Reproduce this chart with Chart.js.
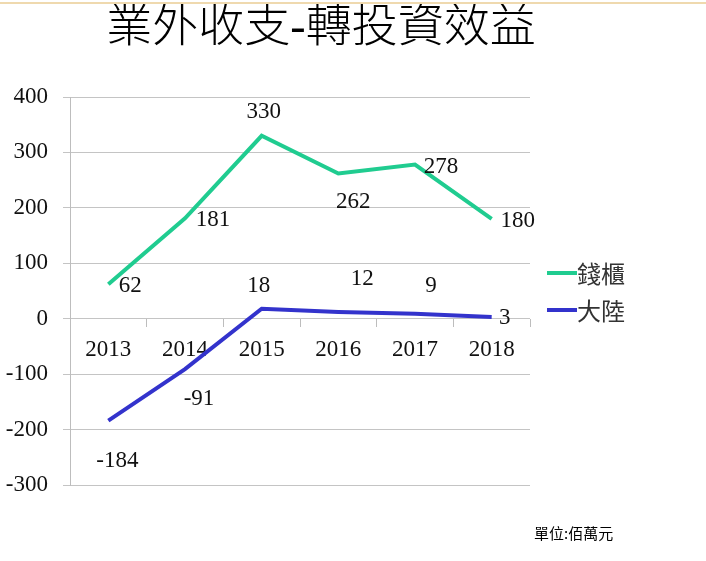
<!DOCTYPE html>
<html>
<head>
<meta charset="utf-8">
<script src="https://cdn.jsdelivr.net/npm/chart.js@4.4.1/dist/chart.umd.min.js"></script>
<style>
  html, body { margin: 0; padding: 0; background: #fff; }
  #wrap { position: relative; width: 706px; height: 561px; overflow: hidden; }
  #topline { position: absolute; left: 0; top: 2px; width: 706px; height: 2px; background: #EFD9AE; }
</style>
</head>
<body>
<div id="wrap">
  <div id="topline"></div>
  <canvas id="myChart"></canvas>
</div>
<script>
const years = ["2013", "2014", "2015", "2016", "2017", "2018"];
const qiangui = [62, 181, 330, 262, 278, 180];   // 錢櫃
const dalu = [-184, -91, 18, 12, 9, 3];          // 大陸
const yTicks = [400, 300, 200, 100, 0, -100, -200, -300];

const serif = "'Liberation Serif', 'Noto Sans CJK TC', serif";
const cjk = "'Noto Sans CJK TC', 'Noto Sans CJK SC', sans-serif";

// where each value label sits relative to its point (like hand-moved Excel labels)
const labelOffsets = [
  [[22, 2], [28, 2], [2, -24], [15, 28], [26, 2], [26, 2]],
  [[9, 40], [14, 30], [-3, -23], [24, -33], [16, -28], [13, 1]],
];

const extras = {
  id: "extras",
  afterDatasetsDraw(chart) {
    const c = chart.ctx;
    c.save();
    // value labels
    c.font = "23px " + serif;
    c.fillStyle = "#111";
    c.textAlign = "center";
    c.textBaseline = "middle";
    chart.data.datasets.forEach((ds, di) => {
      const meta = chart.getDatasetMeta(di);
      meta.data.forEach((pt, i) => {
        const off = labelOffsets[di][i];
        c.fillText(String(ds.data[i]), pt.x + off[0], pt.y + off[1]);
      });
    });

    // title
    c.font = "300 46px " + serif;
    c.fillStyle = "#000";
    c.fillText("業外收支-轉投資效益", 321, 29);

    // legend
    const legendY = [273, 310];
    chart.data.datasets.forEach((ds, di) => {
      c.strokeStyle = ds.borderColor;
      c.lineWidth = 4;
      c.beginPath();
      c.moveTo(547, legendY[di]);
      c.lineTo(577, legendY[di]);
      c.stroke();
      c.font = "24px " + cjk;
      c.fillStyle = "#333";
      c.textAlign = "left";
      c.fillText(ds.label, 577, legendY[di] + 1);
    });

    // unit note
    c.font = "15px " + cjk;
    c.fillStyle = "#000";
    c.fillText("單位:佰萬元", 534, 533);
    c.restore();
  },
};

const ctx = document.getElementById("myChart");

const myChart = new Chart(ctx, {
  type: "line",
  data: {
    labels: years,
    datasets: [
      {
        label: "錢櫃",
        data: qiangui,
        borderColor: "#20CC90",
        backgroundColor: "#20CC90",
        borderWidth: 4,
        pointRadius: 0,
        tension: 0,
      },
      {
        label: "大陸",
        data: dalu,
        borderColor: "#3333CC",
        backgroundColor: "#3333CC",
        borderWidth: 4,
        pointRadius: 0,
        tension: 0,
      },
    ],
  },
  options: {
    responsive: true,
    maintainAspectRatio: false,
    devicePixelRatio: 1,
    animation: false,
    layout: { padding: { left: 0, top: 97, right: 176, bottom: 76 } },
    plugins: {
      legend: { display: false },
      tooltip: { enabled: false },
    },
    scales: {
      x: {
        offset: true,
        position: { y: 0 },
        afterFit: (s) => { s.height = 0; },
        grid: {
          offset: true,
          drawOnChartArea: false,
          drawTicks: true,
          tickLength: 8,
          color: "#BDBDBD",
        },
        border: { display: false },
        ticks: {
          padding: 9,
          color: "#111",
          font: { family: serif, size: 23 },
          maxRotation: 0,
        },
      },
      y: {
        min: -300,
        max: 400,
        afterFit: (s) => { s.width = 70; },
        afterBuildTicks: (s) => { s.ticks = yTicks.map((v) => ({ value: v })); },
        grid: { color: "#C4C4C4", tickLength: 7 },
        border: { color: "#BDBDBD" },
        ticks: {
          padding: 15,
          color: "#111",
          font: { family: serif, size: 23 },
        },
      },
    },
  },
  plugins: [extras],
});
</script>
</body>
</html>
